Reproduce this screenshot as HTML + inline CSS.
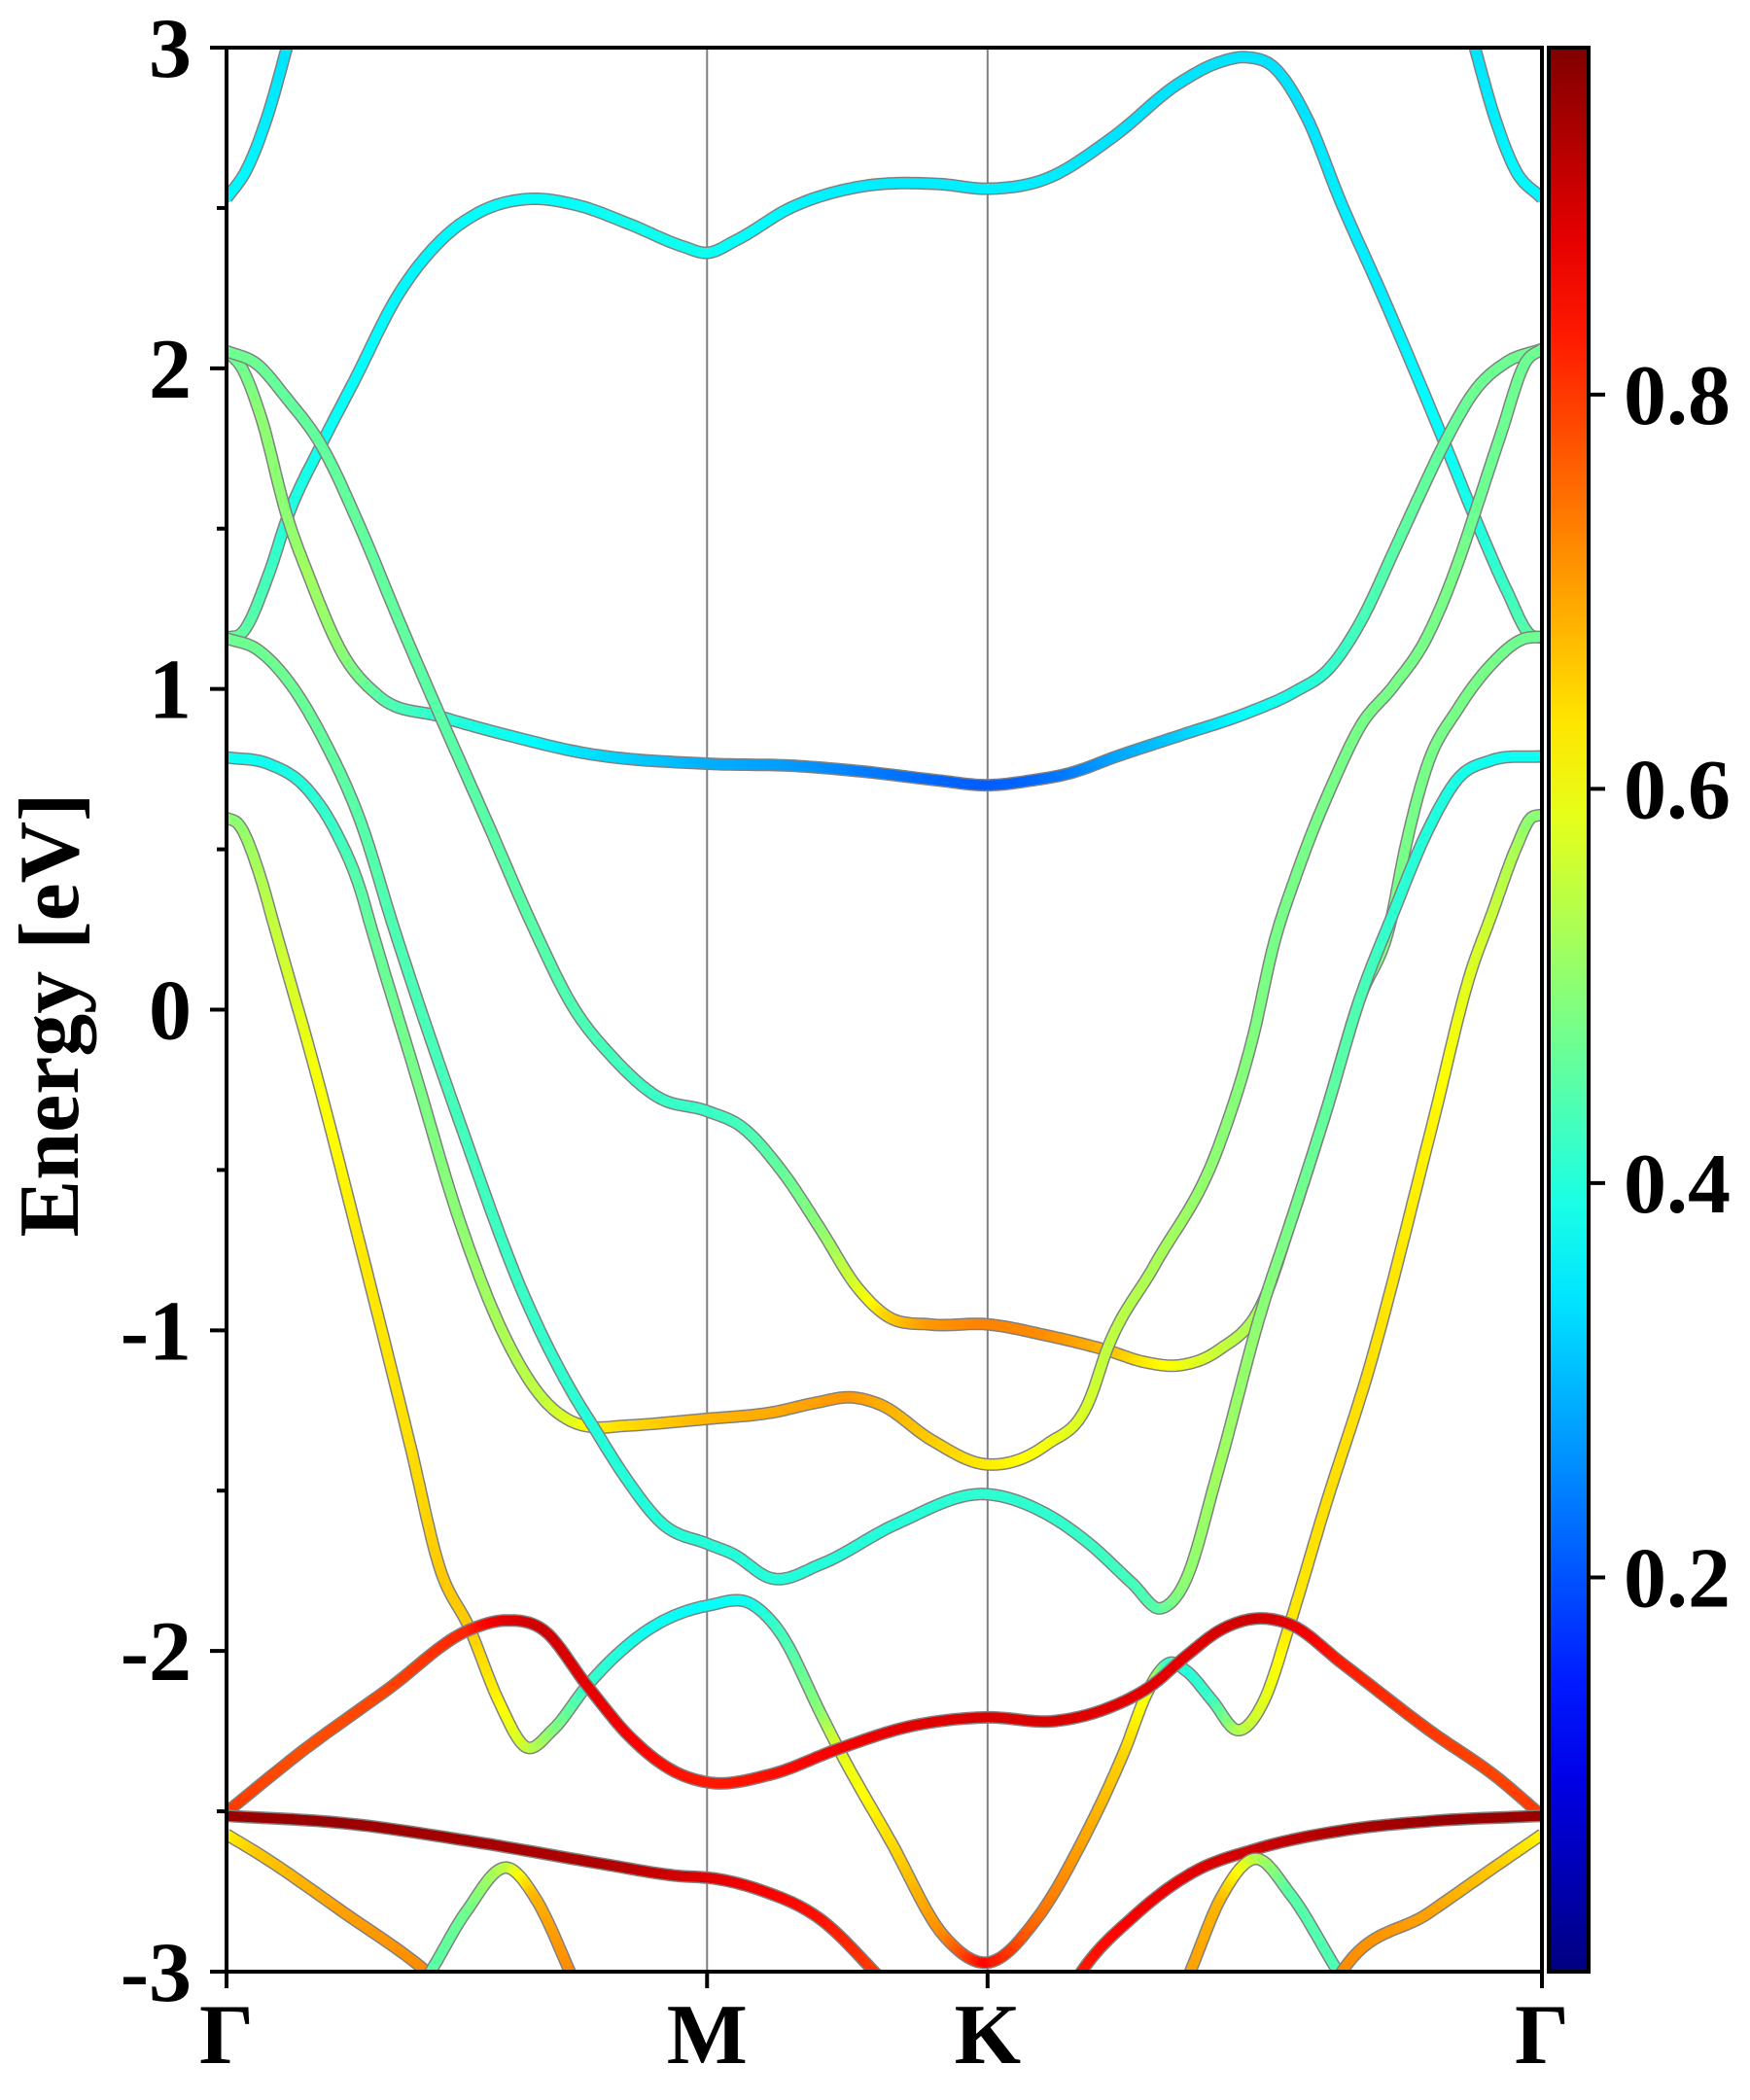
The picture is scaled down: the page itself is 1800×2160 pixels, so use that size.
<!DOCTYPE html>
<html>
<head>
<meta charset="utf-8">
<style>
  html,body{margin:0;padding:0;background:#fff;}
  svg{display:block;}
  text{font-family:"Liberation Serif","DejaVu Serif",serif;font-weight:bold;fill:#000;}
</style>
</head>
<body>
<svg id="chart" width="1800" height="2160" viewBox="0 0 1800 2160" xmlns="http://www.w3.org/2000/svg">
  <defs>
    <clipPath id="plotClip"><rect x="233" y="49" width="1353" height="1979"/></clipPath>
    <linearGradient id="jetGrad" x1="0" y1="1" x2="0" y2="0"></linearGradient>
  </defs>
  <g id="grid"></g>
  <g id="bands" clip-path="url(#plotClip)"></g>
  <rect x="233" y="49" width="1353" height="1979" fill="none" stroke="#000" stroke-width="4"/>
  <g id="yticks"></g>
  <g id="xticks"></g>
  <text transform="translate(80,1044) rotate(-90)" text-anchor="middle" font-size="88">Energy [eV]</text>
  <g id="colorbar"></g>
</svg>
<script>
// ---- data (k in path units: Γ=0, M=3.58, K=5.67, Γ=9.80; E in eV; w = projected weight) ----
const kPoints = [0, 3.58, 5.67, 9.80];
const kLabels = ["Γ", "M", "K", "Γ"];
const eTicks = [-3, -2, -1, 0, 1, 2, 3];
const eTickLabels = ["-3", "-2", "-1", "0", "1", "2", "3"];
const cbTicks = [0.2, 0.4, 0.6, 0.8];
const cbTickLabels = ["0.2", "0.4", "0.6", "0.8"];

const b1K = [0,0.15,0.30,0.45,0.55];
const b1E = [2.53,2.62,2.78,3.0,3.15];
const b1W = [0.36,0.36,0.35,0.34,0.34];
const b1rK = [9.2,9.3,9.45,9.6,9.8];
const b1rE = [3.15,3.0,2.78,2.62,2.53];
const b1rW = [0.34,0.34,0.35,0.36,0.36];

const bBK = [0,0.116,0.31,0.46,0.70,0.95,1.28,1.60,1.90,2.25,2.60,3.0,3.4,3.58,3.8,4.2,4.7,5.3,5.67,6.1,6.6,7.1,7.4,7.6,7.8,8.05,8.3,8.598,9.07,9.286,9.54,9.71,9.8];
const bBE = [1.16,1.175,1.353,1.542,1.757,1.96,2.23,2.40,2.49,2.528,2.51,2.45,2.38,2.36,2.40,2.50,2.565,2.575,2.56,2.59,2.72,2.89,2.955,2.97,2.94,2.78,2.52,2.24,1.772,1.549,1.305,1.17,1.16];
const bBW = [0.47,0.46,0.43,0.40,0.38,0.37,0.36,0.36,0.37,0.37,0.37,0.38,0.38,0.38,0.37,0.36,0.35,0.35,0.35,0.35,0.34,0.34,0.34,0.34,0.34,0.34,0.35,0.35,0.37,0.39,0.42,0.45,0.47];

const bDK = [0,0.116,0.255,0.45,0.615,0.865,1.14,1.585,2.11,2.666,3.58,4.24,4.8,5.3,5.67,6.0,6.28,6.64,7.125,7.608,7.97,8.21,8.45,8.694,8.887,9.09,9.3,9.54,9.8];
const bDE = [2.054,2.0,1.85,1.54,1.35,1.11,0.976,0.915,0.854,0.80,0.767,0.76,0.74,0.715,0.70,0.715,0.737,0.791,0.858,0.926,0.994,1.062,1.21,1.427,1.603,1.78,1.93,2.02,2.06];
const bDW = [0.47,0.47,0.5,0.5,0.52,0.5,0.45,0.41,0.38,0.34,0.29,0.27,0.24,0.22,0.21,0.22,0.24,0.28,0.32,0.37,0.39,0.41,0.43,0.45,0.46,0.46,0.47,0.47,0.47];

const bCK = [0,0.227,0.449,0.70,1.0,1.28,1.585,1.97,2.273,2.587,2.88,3.215,3.585,3.84,4.14,4.435,4.69,4.915,5.248,5.66,6.11,6.558,6.85,7.1,7.39,7.725,7.93,8.19,8.445,8.67,8.78,8.936,9.177,9.42,9.66,9.8];
const bCE = [2.054,2.013,1.906,1.764,1.50,1.218,0.922,0.558,0.268,0.005,-0.15,-0.273,-0.317,-0.366,-0.505,-0.691,-0.861,-0.954,-0.982,-0.981,-1.016,-1.062,-1.10,-1.109,-1.062,-0.908,-0.66,-0.32,0.036,0.27,0.5,0.75,0.94,1.075,1.156,1.163];
const bCW = [0.47,0.47,0.46,0.46,0.46,0.46,0.45,0.45,0.45,0.44,0.43,0.42,0.42,0.43,0.46,0.5,0.57,0.65,0.71,0.73,0.72,0.68,0.63,0.6,0.56,0.52,0.5,0.49,0.49,0.48,0.48,0.48,0.48,0.48,0.47,0.47];

const bEK = [0,0.31,0.59,0.81,1.0,1.07,1.404,1.737,2.07,2.365,2.587,2.735,2.956,3.585,4.065,4.4,4.656,4.878,5.248,5.66,6.11,6.43,6.558,6.91,7.39,7.65,7.8,7.97,8.26,8.45,8.69,8.936,9.18,9.3,9.49,9.68,9.8];
const bEE = [0.787,0.767,0.693,0.558,0.37,0.268,-0.196,-0.66,-1.016,-1.217,-1.287,-1.302,-1.298,-1.276,-1.256,-1.225,-1.209,-1.233,-1.341,-1.418,-1.356,-1.217,-1.062,-0.80,-0.428,-0.08,0.2,0.42,0.723,0.886,1.007,1.156,1.40,1.549,1.79,2.02,2.06];
const bEW = [0.38,0.38,0.4,0.42,0.45,0.46,0.48,0.5,0.53,0.55,0.58,0.62,0.64,0.68,0.69,0.7,0.71,0.69,0.66,0.63,0.6,0.57,0.55,0.53,0.5,0.49,0.48,0.48,0.48,0.48,0.48,0.48,0.48,0.47,0.47,0.47,0.47];

const bFK = [0,0.227,0.45,0.726,1.0,1.25,1.737,2.217,2.587,2.735,2.956,3.25,3.585,3.77,4.065,4.435,4.99,5.66,6.11,6.43,6.75,6.958,7.134,7.39,7.71,7.93,8.19,8.445,8.694,8.936,9.18,9.42,9.8];
const bFE = [1.158,1.124,1.03,0.84,0.585,0.25,-0.351,-0.892,-1.202,-1.302,-1.449,-1.604,-1.666,-1.697,-1.774,-1.728,-1.604,-1.511,-1.573,-1.666,-1.79,-1.867,-1.79,-1.434,-0.939,-0.66,-0.32,0.036,0.303,0.547,0.723,0.777,0.79];
const bFW = [0.47,0.47,0.47,0.46,0.45,0.44,0.43,0.42,0.41,0.4,0.4,0.4,0.4,0.4,0.4,0.4,0.4,0.41,0.41,0.42,0.43,0.45,0.5,0.52,0.5,0.48,0.46,0.44,0.41,0.4,0.39,0.38,0.38];

const bGK = [0,0.09,0.255,0.351,0.665,0.998,1.367,1.59,1.81,2.03,2.234,2.428,2.687,3.14,3.59,3.916,4.11,4.433,4.56,4.95,5.338,5.66,6.05,6.373,6.696,6.858,6.955,7.02,7.15,7.343,7.537,7.73,7.925,8.184,8.509,8.988,9.27,9.42,9.61,9.71,9.8];
const bGE = [0.598,0.578,0.41,0.268,-0.196,-0.738,-1.356,-1.743,-1.929,-2.158,-2.30,-2.247,-2.108,-1.934,-1.858,-1.855,-1.934,-2.20,-2.305,-2.595,-2.885,-2.972,-2.827,-2.595,-2.305,-2.131,-2.062,-2.038,-2.062,-2.154,-2.247,-2.154,-1.911,-1.551,-1.124,-0.351,0.117,0.29,0.507,0.594,0.608];
const bGW = [0.5,0.5,0.53,0.55,0.6,0.63,0.64,0.66,0.66,0.62,0.56,0.5,0.42,0.38,0.37,0.38,0.42,0.5,0.58,0.64,0.72,0.85,0.75,0.7,0.65,0.6,0.5,0.42,0.4,0.42,0.53,0.58,0.63,0.64,0.64,0.62,0.58,0.56,0.53,0.5,0.5];

const bHK = [0,0.55,1.2,1.81,2.07,2.36,2.687,3.01,3.334,3.59,4.045,4.56,5.08,5.66,6.18,6.567,6.89,7.15,7.408,7.666,7.925,8.31,8.96,9.477,9.8];
const bHE = [-2.503,-2.317,-2.12,-1.934,-1.905,-1.934,-2.108,-2.27,-2.375,-2.41,-2.386,-2.305,-2.236,-2.207,-2.218,-2.178,-2.108,-2.015,-1.934,-1.899,-1.917,-2.038,-2.247,-2.398,-2.514];
const bHW = [0.8,0.78,0.79,0.82,0.88,0.9,0.88,0.86,0.84,0.83,0.84,0.86,0.88,0.89,0.89,0.88,0.88,0.88,0.89,0.9,0.88,0.83,0.8,0.79,0.8];

const bIK = [0,0.876,1.846,2.816,3.334,3.657,3.98,4.433,4.82,5.0];
const bIE = [-2.514,-2.537,-2.595,-2.665,-2.70,-2.711,-2.746,-2.839,-2.998,-3.08];
const bIW = [0.95,0.95,0.94,0.93,0.9,0.88,0.86,0.84,0.8,0.8];
const bIrK = [6.25,6.37,6.76,7.21,7.666,8.31,8.96,9.8];
const bIrE = [-3.08,-3.0,-2.827,-2.688,-2.618,-2.56,-2.531,-2.514];
const bIrW = [0.82,0.83,0.86,0.88,0.9,0.93,0.95,0.95];

const bJK = [0,0.23,0.876,1.49,1.6];
const bJE = [-2.572,-2.63,-2.816,-3.0,-3.04];
const bJW = [0.62,0.66,0.7,0.72,0.72];
const bKK = [1.46,1.52,1.78,2.105,2.30,2.558,2.60];
const bKE = [-3.04,-3.0,-2.816,-2.677,-2.77,-3.0,-3.04];
const bKW = [0.44,0.45,0.47,0.55,0.68,0.72,0.72];
const bLK = [7.14,7.18,7.408,7.666,7.925,8.28,8.34];
const bLE = [-3.04,-3.0,-2.77,-2.648,-2.758,-3.0,-3.04];
const bLW = [0.7,0.7,0.68,0.55,0.45,0.44,0.44];
const bMK = [8.25,8.31,8.96,9.477,9.8];
const bME = [-3.04,-3.0,-2.816,-2.665,-2.572];
const bMW = [0.72,0.72,0.7,0.66,0.62];

// ---- rendering ----
const NS = "http://www.w3.org/2000/svg";
const X0 = 233, X1 = 1586, Y0 = 49, Y1 = 2028;
const K_MAX = 9.80, E_MIN = -3, E_MAX = 3, W_MAX = 0.976;
function xScale(k){ return X0 + k / K_MAX * (X1 - X0); }
function yScale(e){ return Y0 + (E_MAX - e) / (E_MAX - E_MIN) * (Y1 - Y0); }
function clamp(v){ return Math.max(0, Math.min(1, v)); }
function jet(v){
  const x = clamp(v);
  const r = clamp(1.5 - Math.abs(4*x - 3)), g = clamp(1.5 - Math.abs(4*x - 2)), b = clamp(1.5 - Math.abs(4*x - 1));
  return "rgb(" + Math.round(r*255) + "," + Math.round(g*255) + "," + Math.round(b*255) + ")";
}
function mk(tag, attrs, parent){
  const el = document.createElementNS(NS, tag);
  for (const a in attrs) el.setAttribute(a, attrs[a]);
  if (parent) parent.appendChild(el);
  return el;
}

// grid lines
const grid = document.getElementById("grid");
[kPoints[1], kPoints[2]].forEach(function(k){
  const l = mk("line", {x1: xScale(k), x2: xScale(k), y1: Y0, y2: Y1, stroke: "#808080", "stroke-width": 2}, grid);
  
  
});

// bands
const bandsG = document.getElementById("bands");
const bandList = [
  ["band-top-left", b1K, b1E, b1W], ["band-top-right", b1rK, b1rE, b1rW],
  ["band-cyan-upper", bBK, bBE, bBW], ["band-flat", bDK, bDE, bDW],
  ["band-m-minus-0p3", bCK, bCE, bCW], ["band-m-minus-1p3", bEK, bEE, bEW],
  ["band-m-minus-1p7", bFK, bFE, bFW], ["band-yellow", bGK, bGE, bGW],
  ["band-red-upper", bHK, bHE, bHW], ["band-dark-red-left", bIK, bIE, bIW],
  ["band-dark-red-right", bIrK, bIrE, bIrW], ["band-low-left", bJK, bJE, bJW],
  ["band-low-peak-left", bKK, bKE, bKW], ["band-low-peak-right", bLK, bLE, bLW],
  ["band-low-right", bMK, bME, bMW]
];
// cubic Hermite interpolation in k with three-point slopes (handles uneven spacing)
function sample(K, E, W){
  const n = K.length;
  const d = [];
  for (let i = 0; i < n - 1; i++) d.push((E[i+1] - E[i]) / (K[i+1] - K[i]));
  const m = [];
  for (let i = 0; i < n; i++){
    if (i === 0) m.push(d[0]);
    else if (i === n - 1) m.push(d[n-2]);
    else {
      const h0 = K[i] - K[i-1], h1 = K[i+1] - K[i];
      m.push((d[i-1]*h1 + d[i]*h0) / (h0 + h1));
    }
  }
  const out = [];
  for (let i = 0; i < n - 1; i++){
    const h = K[i+1] - K[i];
    const steps = 16;
    for (let s = 0; s < steps; s++){
      const t = s / steps, t2 = t*t, t3 = t2*t;
      const e = (2*t3 - 3*t2 + 1)*E[i] + (t3 - 2*t2 + t)*h*m[i] + (-2*t3 + 3*t2)*E[i+1] + (t3 - t2)*h*m[i+1];
      const k = K[i] + h*t;
      out.push([xScale(k), yScale(e), W[i] + (W[i+1] - W[i])*t]);
    }
  }
  out.push([xScale(K[n-1]), yScale(E[n-1]), W[n-1]]);
  return out;
}
bandList.forEach(function(b){
  const g = mk("g", {}, bandsG);
  
  
  const pts = sample(b[1], b[2], b[3]);
  const d = pts.map(function(p, i){ return (i ? "L" : "M") + p[0].toFixed(1) + " " + p[1].toFixed(1); }).join("");
  mk("path", {d: d, fill: "none", stroke: "#808080", "stroke-width": 13, "stroke-linejoin": "round"}, g);
  for (let i = 0; i < pts.length - 1; i++){
    const w = (pts[i][2] + pts[i+1][2]) / 2;
    mk("line", {x1: pts[i][0].toFixed(1), y1: pts[i][1].toFixed(1), x2: pts[i+1][0].toFixed(1), y2: pts[i+1][1].toFixed(1),
      stroke: jet(w / W_MAX), "stroke-width": 10, "stroke-linecap": "round"}, g);
  }
});

// y axis ticks and labels
const yt = document.getElementById("yticks");
for (let e = -3; e <= 3.001; e += 0.5){
  const major = Math.abs(e - Math.round(e)) < 1e-6;
  const t = mk("line", {x1: X0 - (major ? 17 : 10), x2: X0, y1: yScale(e), y2: yScale(e), stroke: "#000", "stroke-width": 4}, yt);
  
  
}
eTicks.forEach(function(e, i){
  const tx = mk("text", {x: 197, y: yScale(e) + 30, "text-anchor": "end", "font-size": 88}, yt);
  tx.textContent = eTickLabels[i];
  
  
});

// x axis ticks and labels
const xt = document.getElementById("xticks");
kPoints.forEach(function(k, i){
  const t = mk("line", {x1: xScale(k), x2: xScale(k), y1: Y1, y2: Y1 + 17, stroke: "#000", "stroke-width": 4}, xt);
  
  
  const tx = mk("text", {x: xScale(k), y: 2122, "text-anchor": "middle", "font-size": 88}, xt);
  tx.textContent = kLabels[i];
  
  
});

// colorbar
const CB_X0 = 1593, CB_X1 = 1634;
function cbY(v){ return Y1 - v / W_MAX * (Y1 - Y0); }
const grad = document.getElementById("jetGrad");
for (let i = 0; i <= 20; i++){
  mk("stop", {offset: (i/20).toFixed(3), "stop-color": jet(i/20)}, grad);
}
const cb = document.getElementById("colorbar");
const cbr = mk("rect", {x: CB_X0, y: Y0, width: CB_X1 - CB_X0, height: Y1 - Y0, fill: "url(#jetGrad)", stroke: "#000", "stroke-width": 4}, cb);


cbTicks.forEach(function(v, i){
  const t = mk("line", {x1: CB_X1, x2: CB_X1 + 17, y1: cbY(v), y2: cbY(v), stroke: "#000", "stroke-width": 4}, cb);
  
  
  const tx = mk("text", {x: 1670, y: cbY(v) + 30, "font-size": 88}, cb);
  tx.textContent = cbTickLabels[i];
  
  
});
</script>
</body>
</html>
